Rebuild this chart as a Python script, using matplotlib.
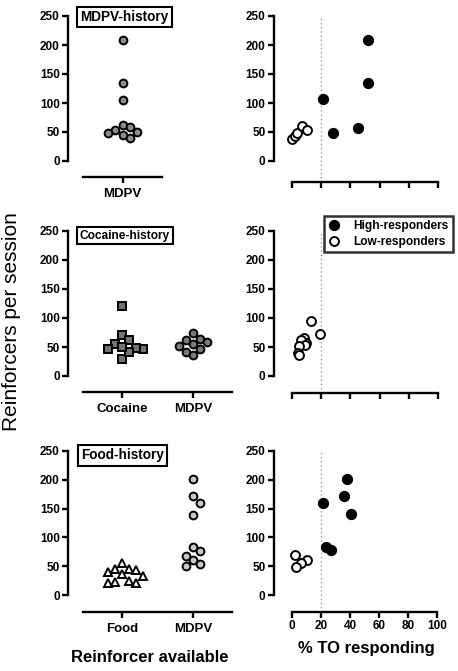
import numpy as np
import matplotlib
matplotlib.use("Agg")
import matplotlib.pyplot as plt
from matplotlib.lines import Line2D

plt.rcParams['font.family'] = ['Liberation Sans', 'DejaVu Sans']

# ---- data ----
# MDPV-history
mdpv_hist_mdpv = [209, 135, 106, 62, 44, 53, 49, 50, 58, 39]
mdpv_high_to = [51.8, 52.0, 21.2, 28.3, 45.2]
mdpv_high_y = [209, 135, 107, 49, 57]
mdpv_low_to = [0.0, 1.8, 3.7, 6.8, 10.5]
mdpv_low_y = [38.5, 43, 49, 61, 53]

# Cocaine-history
coc_hist_cocaine = [121, 71, 55, 46, 29, 48, 62, 42, 47, 50]
coc_hist_mdpv = [63, 74, 41, 55, 62, 46, 51, 59, 37]
coc_low_to = [13.0, 19.5, 8.2, 9.6, 6.2, 8.8, 4.8, 4.4, 4.6]
coc_low_y = [95, 73, 65, 57, 62, 54, 51, 40, 36]

# Food-history
food_hist_food = [56, 46, 43, 45, 40, 33, 36, 21, 23, 25, 21]
food_hist_mdpv = [201, 172, 159, 139, 77, 61, 84, 68, 54, 51]
food_high_to = [37.9, 35.6, 21.5, 41.0, 23.7, 26.7]
food_high_y = [201, 172, 160, 140, 84, 78]
food_low_to = [2.3, 10.3, 6.0, 2.5]
food_low_y = [69, 61, 55, 49]

yticks = [0, 50, 100, 150, 200, 250]
xticks_to = [0, 20, 40, 60, 80, 100]

W, H = 458, 671
fig = plt.figure(figsize=(W / 100, H / 100), dpi=100)


def add_ax(x0, y0, x1, y1):
    return fig.add_axes([x0 / W, 1 - y1 / H, (x1 - x0) / W, (y1 - y0) / H])


def style(ax, left_out, bottom_out):
    for s in ['top', 'right']:
        ax.spines[s].set_visible(False)
    ax.spines['left'].set_position(('outward', left_out))
    ax.spines['bottom'].set_position(('outward', bottom_out))
    for s in ['left', 'bottom']:
        ax.spines[s].set_linewidth(1.7)
    ax.tick_params(width=1.7, length=4, labelsize=8.5, pad=2)
    ax.set_ylim(0, 250)
    ax.set_yticks(yticks)
    for lab in ax.get_yticklabels():
        lab.set_fontweight('bold')


def swarm_offsets(vals, step=7.2, ypx=0.58, xpx=72.0, ygap=9.5):
    # simple grid swarm: highest values placed first, spread sideways on overlap
    vals = np.asarray(vals, dtype=float)
    order = np.argsort(-vals)
    placed = []
    offs = np.zeros(len(vals))
    for i in order:
        y = vals[i] * ypx
        for k in [0, 1, -1, 2, -2, 3, -3, 4, -4]:
            if all(not (kk == k and abs(y - py) < ygap) for kk, py in placed):
                break
        placed.append((k, y))
        offs[i] = k * step / xpx
    return offs


def column(ax, pos, vals, marker, fc, ms):
    xs = pos + swarm_offsets(vals)
    ax.plot(xs, vals, linestyle='none', marker=marker, ms=ms, mfc=fc,
            mec='black', mew=1.4, clip_on=False, zorder=3)


def category_axis(ax, labels, nx):
    ax.set_xlim(-0.55, nx - 0.45)
    ax.set_xticks(range(nx))
    ax.set_xticklabels(labels, fontsize=9.5, fontweight='bold')
    ax.tick_params(axis='x', pad=4)


def to_panel(ax, hx, hy, lx, ly, labels=True):
    ax.set_xlim(0, 100)
    ax.set_xticks(xticks_to)
    if not labels:
        ax.set_xticklabels([])
    else:
        for lab in ax.get_xticklabels():
            lab.set_fontweight('bold')
    ax.axvline(20, ymin=-0.12, ymax=1, color='#999999', ls=(0, (1, 2)),
               lw=1.0, clip_on=False, zorder=1)
    if hx:
        ax.plot(hx, hy, 'o', ms=6.8, mfc='black', mec='black', mew=1.3,
                clip_on=False, zorder=3)
    ax.plot(lx, ly, 'o', ms=6.4, mfc='white', mec='black', mew=1.4,
            clip_on=False, zorder=4)


def title_box(x, y, text, size):
    fig.text(x / W, 1 - y / H, text, ha='center', va='center', fontsize=size,
             fontweight='bold',
             bbox=dict(boxstyle='square,pad=0.25', fc='white', ec='black', lw=1.5))


# top row
ax = add_ax(83, 16, 162, 161)
style(ax, 10.8, 11.5)
category_axis(ax, ['MDPV'], 1)
column(ax, 0, mdpv_hist_mdpv, 'o', '#8c8c8c', 5.6)
title_box(124.5, 17, 'MDPV-history', 9.8)

ax = add_ax(292, 16, 438, 161)
style(ax, 13, 15)
to_panel(ax, mdpv_high_to, mdpv_high_y, mdpv_low_to, mdpv_low_y, labels=False)

# middle row
ax = add_ax(83, 231, 232, 376)
style(ax, 10.8, 11.5)
category_axis(ax, ['Cocaine', 'MDPV'], 2)
column(ax, 0, coc_hist_cocaine, 's', '#737373', 5.8)
column(ax, 1, coc_hist_mdpv, 'o', '#7a7a7a', 5.6)
title_box(125, 235.5, 'Cocaine-history', 8.6)

ax = add_ax(292, 231, 438, 376)
style(ax, 13, 12)
to_panel(ax, [], [], coc_low_to, coc_low_y, labels=False)
handles = [Line2D([], [], ls='none', marker='o', ms=6.8, mfc='black', mec='black', mew=1.3),
           Line2D([], [], ls='none', marker='o', ms=6.4, mfc='white', mec='black', mew=1.4)]
leg = fig.legend(handles, ['High-responders', 'Low-responders'], loc='upper right',
                 bbox_to_anchor=(453 / W, 1 - 216 / H), frameon=True, fancybox=False,
                 prop=dict(weight='bold', size=8.6), handlelength=1.0, handletextpad=1.1,
                 borderpad=0.35, labelspacing=0.3, borderaxespad=0)
leg.get_frame().set_edgecolor('black')
leg.get_frame().set_linewidth(1.8)

# bottom row
ax = add_ax(83, 451, 232, 595)
style(ax, 10.8, 12)
category_axis(ax, ['Food', 'MDPV'], 2)
column(ax, 0, food_hist_food, '^', 'white', 6.2)
column(ax, 1, food_hist_mdpv, 'o', '#c8c8c8', 5.6)
title_box(122.5, 455.5, 'Food-history', 9.8)

ax = add_ax(292, 451, 437, 595)
style(ax, 13, 12)
to_panel(ax, food_high_to, food_high_y, food_low_to, food_low_y, labels=True)

fig.text(150 / W, 1 - 658 / H, 'Reinforcer available', ha='center', va='center',
         fontsize=12, fontweight='bold')
fig.text(366 / W, 1 - 648 / H, '% TO responding', ha='center', va='center',
         fontsize=12, fontweight='bold')
fig.text(12 / W, 1 - 322 / H, 'Reinforcers per session', ha='center', va='center',
         rotation=90, fontsize=15)

fig.savefig('out.png', dpi=100)
